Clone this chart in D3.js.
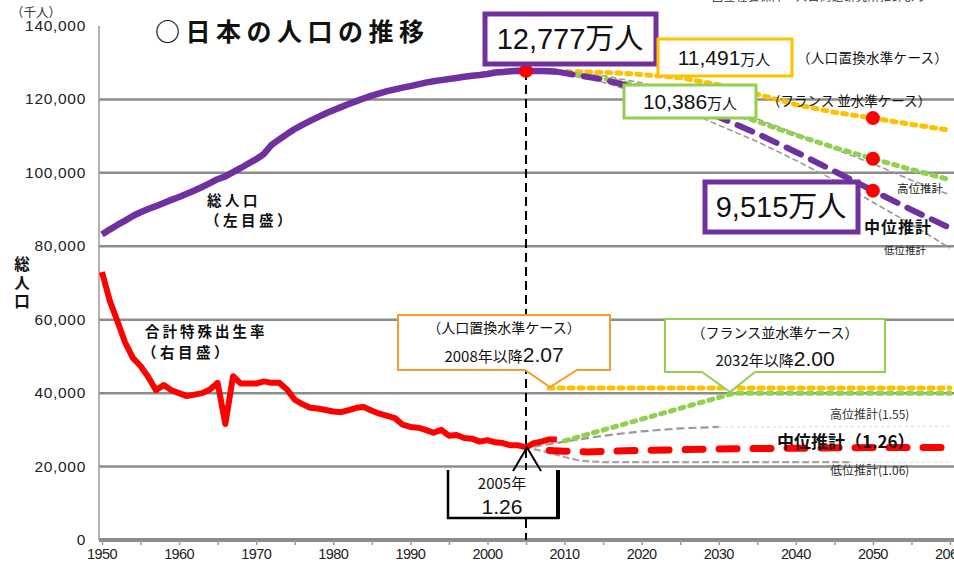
<!DOCTYPE html>
<html><head><meta charset="utf-8">
<script src="https://cdn.jsdelivr.net/npm/d3@7"></script>
<style>
body{margin:0;background:#fff;}
svg{display:block;}
.jp{font-family:"Noto Sans CJK JP","Noto Sans",sans-serif;}
.num{font-family:"Liberation Sans",Arial,sans-serif;}
</style></head>
<body><svg id="c" width="954" height="563"></svg>
<script>
// ---------- data ----------
const histYears = d3.range(1950, 2010);
const popHist = [83200,84541,85808,86981,88239,89276,90172,90928,91767,92641,
93419,94287,95181,96156,97182,98275,99036,100196,101331,102536,
103720,105145,107595,109104,110573,111940,113094,114165,115190,116155,
117060,117902,118728,119536,120305,121049,121660,122239,122745,123205,
123611,124101,124567,124938,125265,125570,125859,126157,126472,126667,
126926,127316,127486,127694,127787,127768,127770,127771,127692,127510];
const tfrHist = [3.65,3.26,2.98,2.69,2.48,2.37,2.22,2.04,2.11,2.04,
2.00,1.96,1.98,2.00,2.05,2.14,1.58,2.23,2.13,2.13,
2.13,2.16,2.14,2.14,2.05,1.91,1.85,1.80,1.79,1.77,
1.75,1.74,1.77,1.80,1.81,1.76,1.72,1.69,1.66,1.57,
1.54,1.53,1.50,1.46,1.50,1.42,1.43,1.39,1.38,1.34,
1.36,1.33,1.32,1.29,1.29,1.26,1.32,1.34,1.37,1.37];

const projYears = [2009,2010,2015,2020,2025,2030,2035,2040,2045,2050,2055,2060];
const popMedium  = [127510,127176,125430,122735,119270,115224,110679,105695,100443,95152,89930,85000];
const popReplace = [127510,127600,127400,126800,125900,124000,121400,118600,116500,114910,113200,111600];
const popFrance  = [127510,127400,125700,123500,120700,117500,114000,110300,106900,103860,100900,98100];
const popHigh    = [127510,127400,126500,124500,121700,118400,114700,110700,106500,102500,98000,94000];
const popLow     = [127510,126900,124700,121500,117500,113000,108500,103400,98000,92000,86000,79500];

const tfrReplaceYears = [2008, 2060];       const tfrReplace = [2.07, 2.07];
const tfrFranceYears  = [2010, 2032, 2060]; const tfrFrance  = [1.35, 2.00, 2.00];
const tfrMediumYears  = [2008, 2010, 2013, 2020, 2030, 2040, 2050, 2060];
const tfrMedium       = [1.22, 1.21, 1.20, 1.22, 1.24, 1.25, 1.26, 1.26];
const tfrHighYears    = [2006, 2010, 2015, 2020, 2025, 2030];
const tfrHigh         = [1.27, 1.34, 1.42, 1.48, 1.52, 1.54];
const tfrHighTailYears= [2030, 2060];       const tfrHighTail = [1.54, 1.55];
const tfrLowYears     = [2006, 2008, 2010, 2012, 2015, 2047];
const tfrLow          = [1.24, 1.19, 1.13, 1.08, 1.06, 1.06];
const tfrLowTailYears = [2047, 2060];       const tfrLowTail = [1.06, 1.06];

const yTicks = [0,20000,40000,60000,80000,100000,120000,140000];
const xTicks = [1950,1960,1970,1980,1990,2000,2010,2020,2030,2040,2050,2060];
const markYear = 2005;

// ---------- scales ----------
const svg = d3.select("#c");
const x = d3.scaleLinear().domain([1950, 2060]).range([102, 950]);
const y = d3.scaleLinear().domain([0, 140000]).range([540, 26]);
const yR = d3.scaleLinear().domain([0, 7]).range([540, 26]);

const PURPLE="#7030A0", ORANGE="#FFC000", GREEN="#92D050", RED="#FF0000", GRID="#8c8c8c";

// gridlines
svg.append("g").selectAll("line").data(yTicks.filter(d=>d>0 && d<140000)).join("line")
  .attr("x1", 99).attr("x2", 954).attr("y1", d=>y(d)).attr("y2", d=>y(d))
  .attr("stroke", GRID).attr("stroke-width", 2.5);

// left axis line
svg.append("line").attr("x1",99).attr("x2",99).attr("y1",y(140000)).attr("y2",y(0))
  .attr("stroke","#999").attr("stroke-width",1.5);

// y tick labels
svg.append("g").selectAll("text").data(yTicks).join("text")
  .attr("class","num").attr("x",86).attr("y",d=>y(d)+5).attr("text-anchor","end")
  .attr("font-size",15.5).attr("letter-spacing",0.7).attr("fill","#222")
  .text(d=>d3.format(",")(d));

// x axis
const xAxis = d3.axisBottom(x).tickValues(d3.range(1950,2061,5)).tickSize(5).tickFormat("");
const gx = svg.append("g").attr("transform","translate(0,540)").call(xAxis);
gx.select(".domain").attr("stroke",GRID).attr("stroke-width",4).attr("d","M99,0H954");
gx.selectAll(".tick line").attr("stroke","#999").attr("stroke-width",1.5);
svg.append("g").selectAll("text").data(xTicks).join("text")
  .attr("class","num").attr("x",d=>x(d)).attr("y",559).attr("text-anchor","middle")
  .attr("font-size",14.5).attr("letter-spacing",-0.6).attr("fill","#222").text(d=>d);

const lineP = d3.line().x(d=>x(d[0])).y(d=>y(d[1]));
const lineT = d3.line().x(d=>x(d[0])).y(d=>yR(d[1]));
const zip = (a,b)=>a.map((v,i)=>[v,b[i]]);
function seg(d, color, w, dash, cap){
  return svg.append("path").attr("d", d).attr("fill","none").attr("stroke",color)
    .attr("stroke-width",w).attr("stroke-dasharray",dash||null)
    .attr("stroke-linecap",cap||"butt").attr("stroke-linejoin","round");
}

// gray projection lines (population)
[popHigh, popLow].forEach(s=> seg(lineP(zip(projYears,s)), "#9a9a9a", 1.6, "6,3"));

// TFR gray lines
seg(lineT(zip(tfrHighYears,tfrHigh)), "#999", 2.2, "8,4");
seg(lineT(zip(tfrHighTailYears,tfrHighTail)), "#e4e4e4", 1.5, "3,3");
seg(lineT(zip(tfrLowYears,tfrLow)), "#a5a5a5", 2.2, "7,3");
seg(lineT(zip(tfrLowTailYears,tfrLowTail)), "#e4e4e4", 1.5, "3,3");

// TFR projections
seg(lineT(zip(tfrReplaceYears,tfrReplace)), ORANGE, 5, "4,6", "round");
seg(lineT(zip(tfrFranceYears,tfrFrance)), GREEN, 5, "4,6", "round");
seg(lineT(zip(tfrMediumYears,tfrMedium)), RED, 7, "18,16", "round");

// TFR history
seg(lineT(zip(histYears,tfrHist)), RED, 6);

// population projections
seg(lineP(zip(projYears,popReplace)), ORANGE, 5, "4,6", "round");
seg(lineP(zip(projYears,popFrance)), GREEN, 5, "4,6", "round");
seg(lineP(zip(projYears,popMedium)), PURPLE, 6, "16,11", "round");

// population history
seg(lineP(zip(histYears,popHist)), PURPLE, 6.5);

// vertical dashed 2005 line
const mi = histYears.indexOf(markYear);
svg.append("line").attr("x1",x(markYear)).attr("x2",x(markYear))
  .attr("y1",y(popHist[mi])).attr("y2",540)
  .attr("stroke","#000").attr("stroke-width",2).attr("stroke-dasharray","9,5");

// red dots
const dots = [[markYear, popHist[mi]], [2050, popReplace[9]], [2050, popFrance[9]], [2050, popMedium[9]]];
svg.append("g").selectAll("circle").data(dots).join("circle")
  .attr("cx",d=>x(d[0])).attr("cy",d=>y(d[1])).attr("r",7).attr("fill",RED);

// ---------- annotations ----------
function box(x0,y0,w,h,color,sw){
  svg.append("rect").attr("x",x0).attr("y",y0).attr("width",w).attr("height",h)
    .attr("fill","#fff").attr("stroke",color).attr("stroke-width",sw);
}
function valText(cx,by,big,unit,bs,us){
  const t = svg.append("text").attr("x",cx).attr("y",by).attr("text-anchor","middle").attr("fill","#111");
  t.append("tspan").attr("class","num").attr("font-size",bs).text(big);
  t.append("tspan").attr("class","jp").attr("font-size",us).text(unit);
}
box(485,14,171,50,PURPLE,5);
valText(570,49,"12,777","万人",29,29);
box(658,39,134,37,ORANGE,3);
valText(724,65,"11,491","万人",21,15);
box(624,85,132,33,GREEN,3);
valText(690,109,"10,386","万人",21,15);
box(705,182,153,50,PURPLE,5);
valText(781,217,"9,515","万人",29,29);

function jp(xx,yy,str,size,opt={}){
  const t = svg.append("text").attr("class","jp").attr("x",xx).attr("y",yy)
    .attr("font-size",size).attr("fill",opt.fill||"#111")
    .attr("font-weight",opt.bold?"bold":"normal")
    .attr("text-anchor",opt.anchor||"start")
    .attr("letter-spacing",opt.ls||0).text(str);
  return t;
}
jp(797,63,"（人口置換水準ケース）",13.5,{ls:0.3});
jp(767,106,"（フランス 並水準ケース）",13.5,{ls:0});

// title
jp(155,41,"○日本の人口の推移",25,{bold:true,ls:5.5});
jp(11,17,"（千人）",12.5,{fill:"#333"});
jp(712,1,"国立社会保障・人口問題研究所推計より",11,{fill:"#333",ls:1});

// left labels
jp(207,206,"総人口",14.5,{bold:true,ls:3.5});
jp(205,226,"（左目盛）",14.5,{bold:true,ls:3.5});
jp(145,337,"合計特殊出生率",14.5,{bold:true,ls:3});
jp(142,358,"（右目盛）",14.5,{bold:true,ls:3.5});
["総","人","口"].forEach((c,i)=>jp(22,270+i*18.5,c,15.5,{bold:true,anchor:"middle"}));

// right labels (population)
jp(897,193,"高位推計",11.5,{fill:"#222"});
jp(864,233,"中位推計",16,{bold:true,ls:1});
jp(884,254,"低位推計",10.5,{fill:"#222"});

// right labels (TFR)
jp(830,419,"高位推計(1.55)",12,{fill:"#333"});
jp(777,448,"中位推計（1.26）",17,{bold:true});
jp(830,475,"低位推計(1.06)",12,{fill:"#333"});

// orange callout
svg.append("path").attr("d","M398,315H610V370H577L550,387L525,370H398Z")
  .attr("fill","#fff").attr("stroke","#F79A2E").attr("stroke-width",2);
jp(504,333,"（人口置換水準ケース）",14,{anchor:"middle"});
{
  const t = svg.append("text").attr("x",504).attr("y",362).attr("text-anchor","middle").attr("fill","#111");
  t.append("tspan").attr("class","jp").attr("font-size",15).text("2008年以降");
  t.append("tspan").attr("class","num").attr("font-size",21).text("2.07");
}
// green callout
svg.append("path").attr("d","M665,319H885V372H755L730,392L702,372H665Z")
  .attr("fill","#fff").attr("stroke",GREEN).attr("stroke-width",2);
jp(775,338,"（フランス並水準ケース）",14,{anchor:"middle"});
{
  const t = svg.append("text").attr("x",775).attr("y",366).attr("text-anchor","middle").attr("fill","#111");
  t.append("tspan").attr("class","jp").attr("font-size",15).text("2032年以降");
  t.append("tspan").attr("class","num").attr("font-size",21).text("2.00");
}

// 2005 callout
svg.append("rect").attr("x",448).attr("y",470).attr("width",110).attr("height",48).attr("fill","#fff");
svg.append("path").attr("d","M448,470V518H558V470").attr("fill","none").attr("stroke","#000").attr("stroke-width",2.5);
svg.append("line").attr("x1",558).attr("x2",558).attr("y1",470).attr("y2",519).attr("stroke","#000").attr("stroke-width",4);
svg.append("path").attr("d","M513,471L527,"+yR(1.26)+"L541,471").attr("fill","none").attr("stroke","#000").attr("stroke-width",2);
jp(502,489,"2005年",15,{anchor:"middle"});
svg.append("text").attr("class","num").attr("x",502).attr("y",514).attr("text-anchor","middle")
  .attr("font-size",21).attr("fill","#111").text("1.26");
</script></body></html>
